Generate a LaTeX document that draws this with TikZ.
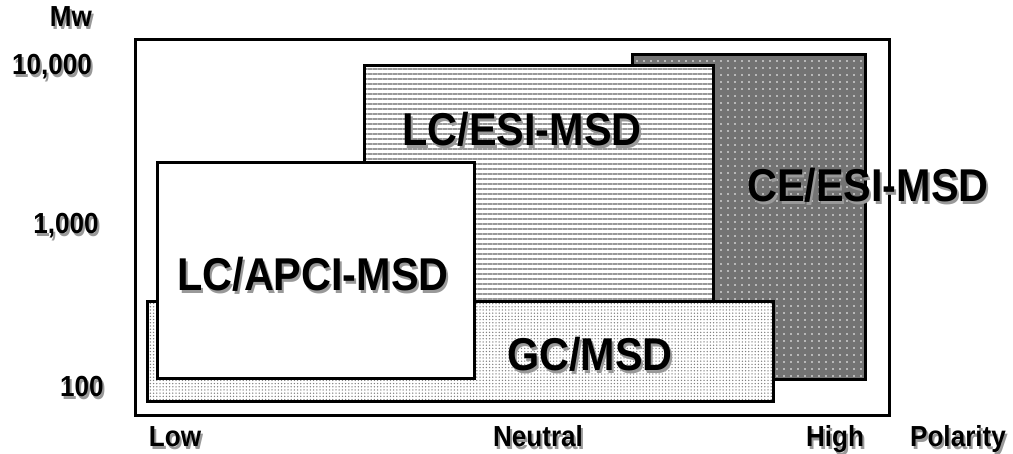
\documentclass[tikz,border=0pt]{standalone}
\usepackage{fontspec}
\setmainfont{Liberation Sans}
\newfontfamily\narrowsans[FakeStretch=0.9]{Liberation Sans}
\usetikzlibrary{patterns.meta}
\tikzset{
  box/.style={draw=black, line width=3pt},
  big/.style={font=\narrowsans\bfseries\fontsize{46}{46}\selectfont, inner sep=0pt},
  axl/.style={font=\narrowsans\bfseries\fontsize{29}{29}\selectfont, inner sep=0pt},
}
\newcommand\shtext[1]{\leavevmode\rlap{\kern2pt\raisebox{-2.5pt}{\color{black!40}#1}}#1}
\begin{document}
\begin{tikzpicture}[x=1pt,y=-1pt]
\useasboundingbox (0,0) rectangle (1013,454);
% frame
\draw[box] (135,40) rectangle (889,416);
% CE/ESI
\path[preaction={fill=black!55}, pattern={Dots[radius=0.9pt,distance=6.5pt]}, pattern color=white] (632,55) rectangle (865,380);
\draw[box] (632,55) rectangle (865,380);
% LC/ESI
\path[preaction={fill=white}, pattern={Lines[angle=0,distance=5pt,line width=2pt]}, pattern color=black!40] (364,66) rectangle (713,302);
\draw[box] (364,66) rectangle (713,302);
% GC
\path[preaction={fill=white}, pattern={Dots[radius=0.75pt,distance=3.2pt]}, pattern color=black!50] (147,302) rectangle (773,402);
\draw[box] (147,302) rectangle (773,402);
% LC/APCI
\draw[box, fill=white] (157,163) rectangle (474,379);
% labels
\node[big] (lcesi) at (522,131) {\shtext{LC/ESI-MSD}};
\node[big] (ceesi) at (868,187) {\shtext{CE/ESI-MSD}};
\node[big] (lcapci) at (313,276) {\shtext{LC/APCI-MSD}};
\node[big] (gc) at (590,356) {\shtext{GC/MSD}};
\node[axl] (mw) at (71,18) {\shtext{Mw}};
\node[axl] (t1) at (52,68) {\shtext{10,000}};
\node[axl] (t2) at (66,227) {\shtext{1,000}};
\node[axl] (t3) at (82,388) {\shtext{100}};
\node[axl,anchor=base] (low) at (175,447) {\shtext{Low}};
\node[axl,anchor=base] (neu) at (538,447) {\shtext{Neutral}};
\node[axl,anchor=base] (high) at (835,447) {\shtext{High}};
\node[axl,anchor=base] (pol) at (958,447) {\shtext{Polarity}};
\end{tikzpicture}
\end{document}
